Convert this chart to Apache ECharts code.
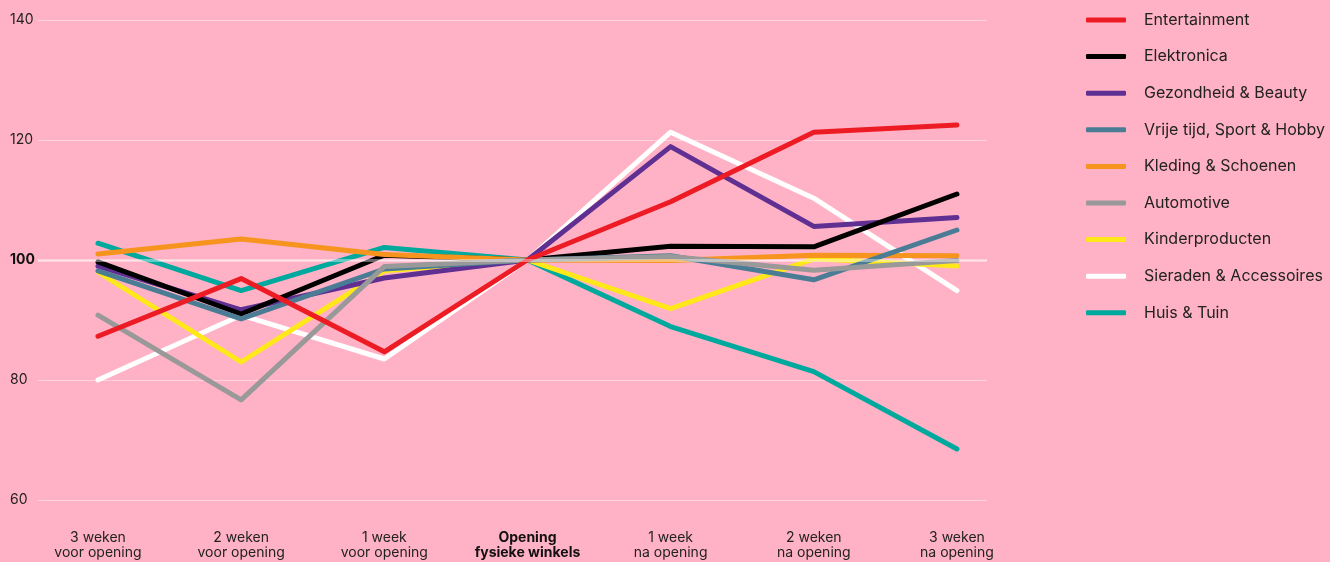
<!DOCTYPE html>
<html>
<head>
<meta charset="utf-8">
<script src="https://cdn.jsdelivr.net/npm/echarts@6/dist/echarts.min.js"></script>
<style>
html,body{margin:0;padding:0;background:#FFB1C5;}
#c{width:1330px;height:562px;}
</style>
</head>
<body>
<div id="c"></div>
<script>
const categories = [
  '3 weken\nvoor opening',
  '2 weken\nvoor opening',
  '1 week\nvoor opening',
  'Opening\nfysieke winkels',
  '1 week\nna opening',
  '2 weken\nna opening',
  '3 weken\nna opening'
];
const yTicks = [60, 80, 100, 120, 140];

const entertainment = [87.3, 96.9, 84.7, 100, 109.7, 121.3, 122.5];
const elektronica   = [99.7, 91.0, 100.8, 100, 102.3, 102.2, 111.0];
const gezondheid    = [99.0, 91.7, 97.0, 100, 118.9, 105.6, 107.1];
const vrijeTijd     = [98.2, 90.2, 98.5, 100, 100.7, 96.7, 105.0];
const kleding       = [101.0, 103.5, 100.9, 100, 99.9, 100.8, 100.7];
const automotive    = [90.8, 76.7, 98.9, 100, 100.6, 98.3, 99.9];
const kinder        = [98.0, 83.0, 98.2, 100, 91.9, 100.2, 99.0];
const sieraden      = [80.0, 90.8, 83.5, 100, 121.3, 110.3, 94.9];
const huisTuin      = [102.8, 94.9, 102.1, 100, 88.9, 81.4, 68.5];

const legendOrder = ['Entertainment','Elektronica','Gezondheid & Beauty','Vrije tijd, Sport & Hobby','Kleding & Schoenen','Automotive','Kinderproducten','Sieraden & Accessoires','Huis & Tuin'];

// drawing order (bottom -> top)
const seriesDefs = [
  {name:'Huis & Tuin', data:huisTuin, color:'#00A99D'},
  {name:'Sieraden & Accessoires', data:sieraden, color:'#FFFFFF'},
  {name:'Kinderproducten', data:kinder, color:'#FFE81A'},
  {name:'Gezondheid & Beauty', data:gezondheid, color:'#5F2F92'},
  {name:'Elektronica', data:elektronica, color:'#000000'},
  {name:'Kleding & Schoenen', data:kleding, color:'#F7941D'},
  {name:'Vrije tijd, Sport & Hobby', data:vrijeTijd, color:'#4A7D95'},
  {name:'Automotive', data:automotive, color:'#999999'},
  {name:'Entertainment', data:entertainment, color:'#ED1C24'}
];

const chart = echarts.init(document.getElementById('c'), null, {renderer:'canvas'});

const series = seriesDefs.map((s, k) => {
  const o = {
    name: s.name,
    type: 'line',
    data: s.data.map((v, i) => [i, v]),
    color: s.color,
    showSymbol: false,
    symbol: 'none',
    lineStyle: {width: 5, color: s.color, cap: 'round', join: 'round'},
    itemStyle: {color: s.color},
    emphasis: {disabled: true},
    animation: false
  };
  if (k === 0) {
    o.markLine = {
      silent: true, symbol: 'none', animation: false,
      label: {show: false},
      lineStyle: {type: 'solid', width: 3, color: 'rgba(255,255,255,0.4)'},
      data: [{yAxis: 100}]
    };
  }
  return o;
});

chart.setOption({
  backgroundColor: '#FFB1C5',
  textStyle: {fontFamily: 'Inter, "Noto Sans", sans-serif'},
  grid: {left: 38, right: 343, top: 20, bottom: 62, containLabel: false},
  xAxis: {
    type: 'value',
    min: -0.419,
    max: 6.21,
    axisLine: {show: false},
    axisTick: {show: false},
    splitLine: {show: false},
    axisLabel: {
      customValues: [0,1,2,3,4,5,6],
      margin: 30,
      color: '#222',
      fontSize: 14,
      lineHeight: 15,
      formatter: function (v) {
        const t = categories[Math.round(v)];
        if (Math.round(v) === 3) {
          return t.split('\n').map(l => '{b|' + l + '}').join('\n');
        }
        return t;
      },
      rich: {b: {fontWeight: 'bold', fontSize: 14, lineHeight: 15, color: '#111'}}
    }
  },
  yAxis: {
    type: 'value',
    min: yTicks[0],
    max: yTicks[yTicks.length - 1],
    interval: 20,
    axisLine: {show: false},
    axisTick: {show: false},
    splitLine: {lineStyle: {color: 'rgba(255,255,255,0.45)', width: 1}},
    axisLabel: {
      align: 'left',
      margin: 28,
      color: '#222',
      fontSize: 14,
      formatter: function (v) { return v === 100 ? '{b|' + v + '}' : String(v); },
      rich: {b: {fontWeight: 'bold', fontSize: 14, color: '#111'}}
    }
  },
  legend: {
    orient: 'vertical',
    left: 1081,
    top: 5,
    data: legendOrder,
    icon: 'roundRect',
    itemWidth: 40,
    itemHeight: 5,
    itemGap: 16.6,
    selectedMode: false,
    textStyle: {fontSize: 16, color: '#222', lineHeight: 20, padding: [0, 0, 0, 13]}
  },
  series: series
});
</script>
</body>
</html>
